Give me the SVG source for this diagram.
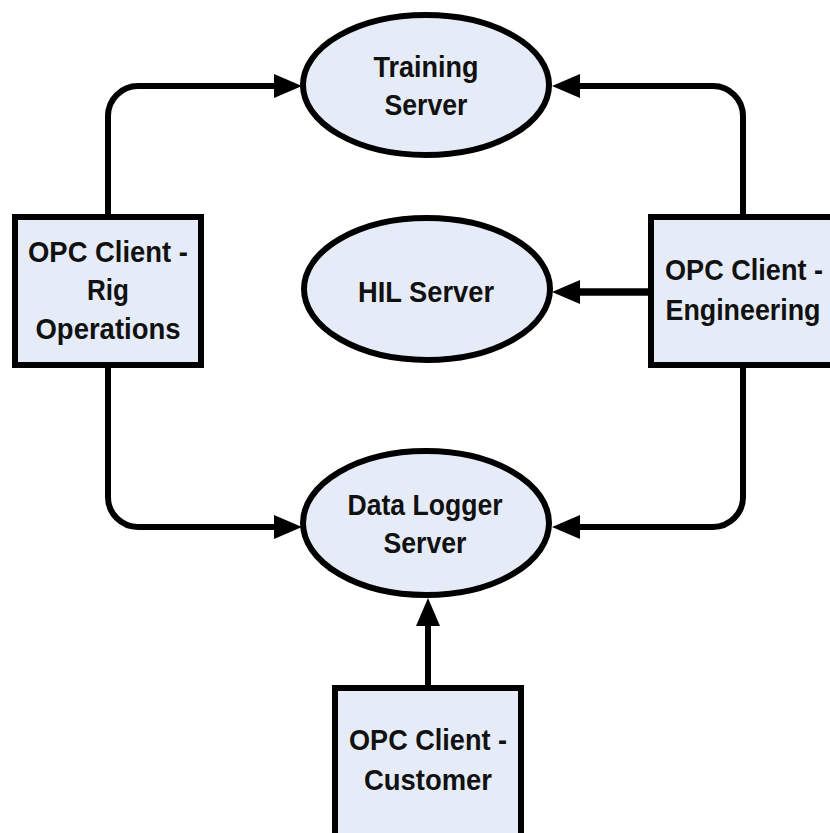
<svg xmlns="http://www.w3.org/2000/svg" width="830" height="833" viewBox="0 0 830 833">
  <style>
    .node { fill: #E6ECF7; stroke: #000; stroke-width: 6; }
    .label { font-family: "Liberation Sans", Arial, sans-serif; font-weight: bold; font-size: 30px; fill: #111; text-anchor: middle; }
    .link { fill: none; stroke: #000; stroke-width: 6; }
    .link.heavy { stroke-width: 7.5; }
  </style>
  <defs>
    <marker id="arrow" viewBox="0 0 28 24" refX="14" refY="12" markerWidth="28" markerHeight="24" markerUnits="userSpaceOnUse" orient="auto">
      <path d="M0,0 L28,12 L0,24 Z" fill="#000"/>
    </marker>
  </defs>
  <rect width="830" height="833" fill="#fff"/>

  <!-- connectors -->
  <g id="connectors">
    <path class="link" d="M108,214 V116 A30,30 0 0 1 138,86 H288" marker-end="url(#arrow)"/>
    <path class="link" d="M743,214 V116 A30,30 0 0 0 713,86 H566" marker-end="url(#arrow)"/>
    <path class="link heavy" d="M648,292 H566" marker-end="url(#arrow)"/>
    <path class="link" d="M108,368 V497 A30,30 0 0 0 138,527 H288" marker-end="url(#arrow)"/>
    <path class="link" d="M743,368 V497 A30,30 0 0 1 713,527 H566" marker-end="url(#arrow)"/>
    <path class="link" d="M428,685 V612" marker-end="url(#arrow)"/>
  </g>

  <!-- servers -->
  <g id="training-server">
    <ellipse class="node" cx="426" cy="85" rx="123" ry="70"/>
    <text class="label" x="426" y="77" textLength="105" lengthAdjust="spacingAndGlyphs">Training</text>
    <text class="label" x="426" y="115" textLength="83" lengthAdjust="spacingAndGlyphs">Server</text>
  </g>
  <g id="hil-server">
    <ellipse class="node" cx="427" cy="289" rx="123" ry="71"/>
    <text class="label" x="426" y="302" textLength="136" lengthAdjust="spacingAndGlyphs">HIL Server</text>
  </g>
  <g id="data-logger-server">
    <ellipse class="node" cx="426" cy="523" rx="123" ry="72"/>
    <text class="label" x="425" y="515" textLength="155" lengthAdjust="spacingAndGlyphs">Data Logger</text>
    <text class="label" x="425" y="553" textLength="83" lengthAdjust="spacingAndGlyphs">Server</text>
  </g>

  <!-- clients -->
  <g id="client-rig-operations">
    <rect class="node" x="15" y="217" width="186" height="148"/>
    <text class="label" x="108" y="262" textLength="160" lengthAdjust="spacingAndGlyphs">OPC Client -</text>
    <text class="label" x="108" y="300" textLength="42" lengthAdjust="spacingAndGlyphs">Rig</text>
    <text class="label" x="108" y="339" textLength="145" lengthAdjust="spacingAndGlyphs">Operations</text>
  </g>
  <g id="client-engineering">
    <rect class="node" x="651" y="217" width="200" height="148"/>
    <text class="label" x="744" y="280" textLength="158" lengthAdjust="spacingAndGlyphs">OPC Client -</text>
    <text class="label" x="743" y="320" textLength="155" lengthAdjust="spacingAndGlyphs">Engineering</text>
  </g>
  <g id="client-customer">
    <rect class="node" x="335" y="688" width="186" height="160"/>
    <text class="label" x="428" y="750" textLength="158" lengthAdjust="spacingAndGlyphs">OPC Client -</text>
    <text class="label" x="428" y="790" textLength="128" lengthAdjust="spacingAndGlyphs">Customer</text>
  </g>
</svg>
